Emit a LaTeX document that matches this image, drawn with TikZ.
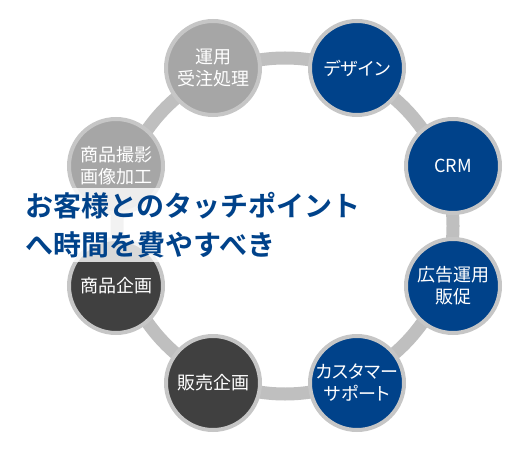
\documentclass[tikz,border=0pt]{standalone}
\usepackage{fontspec}
\setmainfont{Noto Sans CJK JP}[BoldFont={Noto Sans CJK JP Bold}]
\newfontfamily\spotfont{Noto Sans CJK JP}[RawFeature=+palt]
\definecolor{tpblue}{HTML}{00428A}
\definecolor{tplight}{HTML}{A6A6A6}
\definecolor{tpdark}{HTML}{404040}
\definecolor{tpring}{HTML}{BFBFBF}
\definecolor{tpedge}{HTML}{C6C6C6}

\begin{document}
\begin{tikzpicture}[x=1pt, y=-1pt,
    spot/.style={circle, draw=tpedge, line width=4pt, minimum size=94pt,
      inner sep=0pt, text=white, align=center,
      font=\spotfont\fontsize{18}{22}\selectfont},
    bluespot/.style={spot, fill=tpblue},
    lightspot/.style={spot, fill=tplight},
    darkspot/.style={spot, fill=tpdark}]

    % Frame of the picture
    \useasboundingbox (0, 0) rectangle (529, 462);

    % Centre of the ring
    \coordinate (O) at (285, 226);

    % Draw the ring behind the circles
    \draw[tpring, line width=13pt] (O) circle[radius=168pt];

    % Blue circles on the right
    \node[bluespot] (design) at (357, 68) {デザイン};          % Top right
    \node[bluespot] (crm) at (453, 166) {CRM};                % Right upper
    \node[bluespot] (ads) at (453, 286) {広告運用\\販促};      % Right lower
    \node[bluespot] (support) at (357, 383) {カスタマー\\サポート}; % Bottom right

    % Dark circles at the bottom left
    \node[darkspot] (sales) at (213, 383) {販売企画};          % Bottom left
    \node[darkspot] (plan) at (116, 286) {商品企画};           % Left lower

    % Light circles at the top left
    \node[lightspot] (photo) at (116, 166) {商品撮影\\画像加工}; % Left upper
    \node[lightspot] (ops) at (213, 68) {運用\\受注処理};        % Top left

    % Heading on a pale backdrop
    \node[anchor=north west, fill=white, fill opacity=0.8, text opacity=1,
      inner xsep=4pt, inner ysep=4pt, align=left, text=tpblue,
      font=\fontsize{28}{39}\selectfont\bfseries] (title) at (21, 188)
      {お客様とのタッチポイント\\へ時間を費やすべき};

\end{tikzpicture}
\end{document}
